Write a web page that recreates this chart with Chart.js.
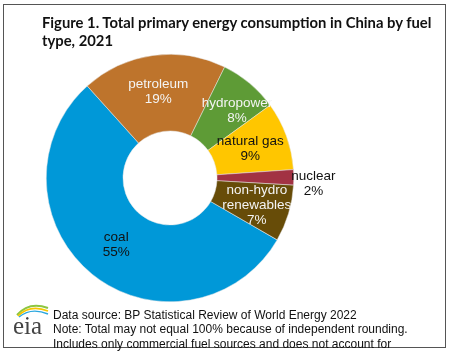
<!DOCTYPE html>
<html><head><meta charset="utf-8">
<script src="https://cdn.jsdelivr.net/npm/chart.js@4"></script>
<style>
html,body{margin:0;padding:0;background:#fff;width:450px;height:355px;overflow:hidden;}
#frame{position:absolute;left:3px;top:4px;width:441px;height:342px;border:1.5px solid #555;}
#c{position:absolute;left:0;top:0;}
#title{position:absolute;left:42px;top:13px;font-family:Lato,"Liberation Sans",sans-serif;font-weight:bold;font-size:14.8px;line-height:18px;color:#111;}
#foot{position:absolute;left:53px;top:308px;font-family:"Liberation Sans",Arial,sans-serif;font-size:12px;line-height:14.3px;color:#111;white-space:nowrap;}
#logo{position:absolute;left:10px;top:299px;width:44px;height:38px;}
</style></head>
<body>
<div id="frame"></div>
<canvas id="c" width="450" height="355"></canvas>
<div id="title">Figure 1. Total primary energy consumption in China by fuel<br>type, 2021</div>
<svg id="logo" viewBox="0 0 44 38">
<path d="M7 16 Q19 2 38 9" stroke="#8dc63f" stroke-width="2" fill="none"/>
<path d="M8 17 Q20 5 38 12" stroke="#f7c600" stroke-width="1.6" fill="none"/>
<path d="M9 18 Q21 8 38 15" stroke="#2aa7df" stroke-width="1.4" fill="none"/>
<text x="3" y="35" font-family="Liberation Serif, DejaVu Serif, serif" font-size="25" fill="#444">eia</text>
</svg>
<div id="foot">Data source: BP Statistical Review of World Energy 2022<br>Note: Total may not equal 100% because of independent rounding.<br>Includes only commercial fuel sources and does not account for</div>
<script>
const categories = ["coal", "petroleum", "hydropower", "natural gas", "nuclear", "non-hydro renewables"];
const labelLines = [["coal"], ["petroleum"], ["hydropower"], ["natural gas"], ["nuclear"], ["non-hydro", "renewables"]];
const shares = [54.9, 18.9, 7.7, 8.9, 2.0, 7.4];
const colors = ["#0098D8", "#BE742C", "#5E9B36", "#FFC600", "#A23243", "#674C08"];
const labelColors = ["#111", "#f4f4f4", "#f4f4f4", "#111", "#111", "#f4f4f4"];
const labelOffsets = [[0, 0], [0, -2], [12, -2], [0, 0], [58, 6], [5, 3]];

const total = shares.reduce((a, b) => a + b, 0);

const sliceLabels = {
  id: 'sliceLabels',
  afterDatasetsDraw(chart) {
    const ctx = chart.ctx;
    const meta = chart.getDatasetMeta(0);
    ctx.save();
    ctx.font = '13.5px "Liberation Sans", Arial, sans-serif';
    ctx.textAlign = 'center';
    ctx.textBaseline = 'middle';
    meta.data.forEach((arc, i) => {
      const p = arc.tooltipPosition();
      const lines = labelLines[i].concat([Math.round(shares[i] / total * 100) + '%']);
      const x = p.x + labelOffsets[i][0];
      const y = p.y + labelOffsets[i][1];
      const lh = 15;
      const y0 = y - (lines.length - 1) * lh / 2;
      ctx.fillStyle = labelColors[i];
      lines.forEach((t, k) => ctx.fillText(t, x, y0 + k * lh));
    });
    ctx.restore();
  }
};

new Chart(document.getElementById('c'), {
  type: 'doughnut',
  data: {
    labels: categories,
    datasets: [{
      data: shares,
      backgroundColor: colors,
      borderColor: '#e8e8e8',
      borderWidth: 0.5
    }]
  },
  options: {
    responsive: false,
    animation: false,
    rotation: 120,
    cutout: '38%',
    layout: { padding: { left: 46, right: 156, top: 54, bottom: 53 } },
    plugins: { legend: { display: false }, tooltip: { enabled: false }, title: { display: false } }
  },
  plugins: [sliceLabels]
});
</script>
</body></html>
